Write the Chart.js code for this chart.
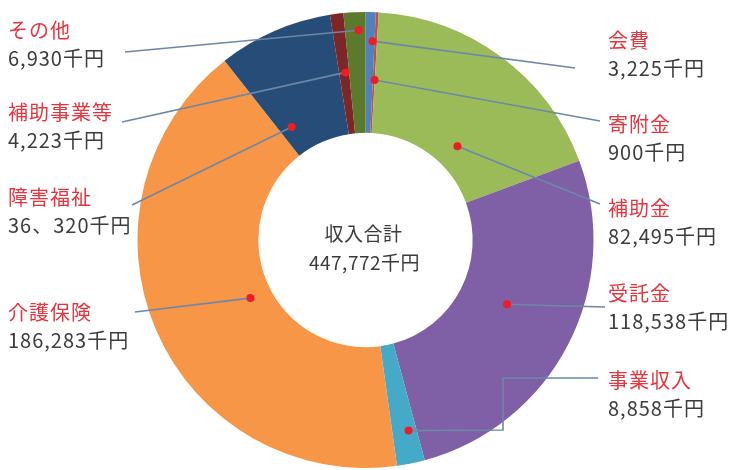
<!DOCTYPE html>
<html>
<head>
<meta charset="utf-8">
<script src="https://cdn.jsdelivr.net/npm/chart.js@4.4.1/dist/chart.umd.min.js"></script>
<style>
  html, body { margin: 0; padding: 0; background: #fff; }
  #incomeChart { display: block; }
</style>
</head>
<body>
<canvas id="incomeChart" width="731" height="470"></canvas>
<script>
// 収入の内訳 (千円)
const categories = ['会費', '寄附金', '補助金', '受託金', '事業収入', '介護保険', '障害福祉', '補助事業等', 'その他'];
const amounts = [3225, 900, 82495, 118538, 8858, 186283, 36320, 4223, 6930];
const amountLabels = ['3,225千円', '900千円', '82,495千円', '118,538千円', '8,858千円', '186,283千円', '36、320千円', '4,223千円', '6,930千円'];
const totalTitle = '収入合計';
const totalLabel = '447,772千円';

const sliceColors = ['#4f81bd', '#c0504d', '#9bbb59', '#7f5fa6', '#44aac8', '#f79646', '#254d78', '#7d2527', '#5b7a2c'];

// where each callout sits: dot inside the slice (t = along the arc, r = across the ring),
// bend points of the leader line, and the text block
const callouts = [
  { t: 0.78, r: 0.76, path: [[575, 68]], x: 608, y: 40 },
  { t: 0.9, r: 0.44, path: [[600, 121]], x: 608, y: 124 },
  { t: 0.62, r: 0.2, path: [[600, 204]], x: 608, y: 208 },
  { t: 0.47, r: 0.4, path: [[605, 307]], x: 608, y: 293 },
  { t: 0.33, r: 0.73, path: [[503, 430], [503, 378], [598, 378]], x: 608, y: 380 },
  { t: 0.475, r: 0.18, path: [[135, 312]], x: 8, y: 312 },
  { t: 0.17, r: 0.23, path: [[132, 205]], x: 8, y: 197 },
  { t: 0.64, r: 0.51, path: [[122, 122]], x: 8, y: 112 },
  { t: 0.66, r: 0.85, path: [[125, 52]], x: 8, y: 30 }
];

const FONT = '"Noto Sans CJK JP", "Noto Sans", sans-serif';

const calloutPlugin = {
  id: 'callouts',
  afterDatasetsDraw(chart) {
    const ctx = chart.ctx;
    const arcs = chart.getDatasetMeta(0).data;

    ctx.save();
    // center text
    const cx = arcs[0].x, cy = arcs[0].y;
    ctx.fillStyle = '#3a3a3a';
    ctx.textAlign = 'center';
    ctx.textBaseline = 'middle';
    ctx.font = '19px ' + FONT;
    ctx.letterSpacing = '0.5px';
    ctx.fillText(totalTitle, cx - 2, cy - 6);
    ctx.fillText(totalLabel, cx - 1, cy + 23);

    arcs.forEach((arc, i) => {
      const c = callouts[i];
      const p = arc.getProps(['x', 'y', 'startAngle', 'endAngle', 'innerRadius', 'outerRadius'], true);
      const a = p.startAngle + (p.endAngle - p.startAngle) * c.t;
      const rad = p.innerRadius + (p.outerRadius - p.innerRadius) * c.r;
      const dx = p.x + Math.cos(a) * rad;
      const dy = p.y + Math.sin(a) * rad;

      // leader line
      ctx.strokeStyle = '#6d87a8';
      ctx.lineWidth = 1.6;
      ctx.beginPath();
      ctx.moveTo(dx, dy);
      c.path.forEach(pt => ctx.lineTo(pt[0], pt[1]));
      ctx.stroke();

      // dot
      ctx.fillStyle = '#ee1c25';
      ctx.beginPath();
      ctx.arc(dx, dy, 4, 0, Math.PI * 2);
      ctx.fill();

      // text
      ctx.textAlign = 'left';
      ctx.textBaseline = 'middle';
      ctx.font = '20px ' + FONT;
      ctx.letterSpacing = '1px';
      ctx.fillStyle = '#e8343f';
      ctx.fillText(categories[i], c.x, c.y);
      ctx.fillStyle = '#3c3c3c';
      ctx.fillText(amountLabels[i], c.x, c.y + 28);
    });
    ctx.restore();
  }
};

new Chart(document.getElementById('incomeChart').getContext('2d'), {
  type: 'doughnut',
  data: {
    labels: categories,
    datasets: [{
      data: amounts,
      backgroundColor: sliceColors,
      borderWidth: 0,
      hoverOffset: 0
    }]
  },
  options: {
    responsive: false,
    animation: false,
    cutout: '47%',
    rotation: 0,
    layout: { padding: { top: 12, bottom: 2 } },
    plugins: {
      legend: { display: false },
      tooltip: { enabled: false }
    }
  },
  plugins: [calloutPlugin]
});
</script>
</body>
</html>
